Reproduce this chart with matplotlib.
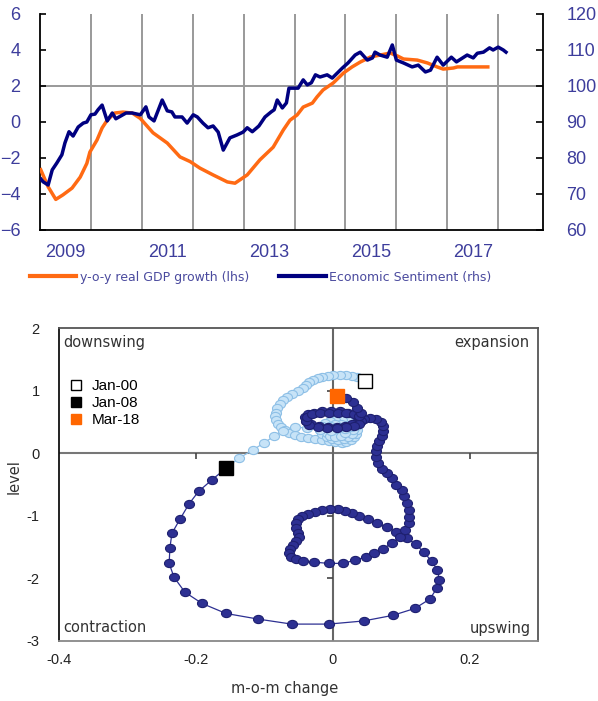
import matplotlib
matplotlib.use('Agg')
import matplotlib.pyplot as plt
from matplotlib.path import Path
from matplotlib.lines import Line2D

# ---------------- top chart data ----------------
gdp_year = [2009.00, 2009.16, 2009.31, 2009.45, 2009.63, 2009.79, 2009.92, 2009.98, 2010.12, 2010.22,
            2010.32, 2010.47, 2010.63, 2010.81, 2010.97, 2011.22, 2011.50, 2011.75, 2011.95, 2012.14,
            2012.40, 2012.68, 2012.83, 2013.07, 2013.32, 2013.58, 2013.78, 2013.91, 2014.05, 2014.17,
            2014.35, 2014.44, 2014.56, 2014.76, 2014.96, 2015.13, 2015.29, 2015.49, 2015.68, 2015.88,
            2016.02, 2016.14, 2016.41, 2016.61, 2016.80, 2016.92, 2017.12, 2017.20, 2017.83]
gdp_val = [-2.56, -3.6, -4.3, -4.05, -3.67, -3.06, -2.3, -1.67, -1.0, -0.33,
           0.1, 0.5, 0.55, 0.5, 0.2, -0.6, -1.17, -1.94, -2.2, -2.56,
           -2.94, -3.33, -3.4, -2.94, -2.1, -1.4, -0.44, 0.1, 0.39, 0.83,
           1.05, 1.39, 1.78, 2.17, 2.72, 3.06, 3.33, 3.61, 3.72, 3.83,
           3.67, 3.5, 3.44, 3.28, 3.06, 2.94, 3.0, 3.06, 3.06]

esi_year = [2009.00, 2009.06, 2009.16, 2009.24, 2009.33, 2009.43, 2009.49, 2009.57, 2009.65, 2009.75,
            2009.85, 2009.92, 2010.00, 2010.08, 2010.14, 2010.22, 2010.32, 2010.42, 2010.49, 2010.59,
            2010.69, 2010.81, 2010.97, 2011.08, 2011.14, 2011.24, 2011.40, 2011.50, 2011.59, 2011.65,
            2011.79, 2011.89, 2012.01, 2012.09, 2012.20, 2012.30, 2012.40, 2012.50, 2012.60, 2012.73,
            2012.87, 2012.99, 2013.07, 2013.17, 2013.30, 2013.42, 2013.54, 2013.60, 2013.66, 2013.76,
            2013.84, 2013.89, 2014.07, 2014.17, 2014.25, 2014.33, 2014.41, 2014.50, 2014.64, 2014.74,
            2014.84, 2014.94, 2015.05, 2015.19, 2015.29, 2015.43, 2015.53, 2015.58, 2015.68, 2015.82,
            2015.92, 2016.00, 2016.14, 2016.31, 2016.43, 2016.57, 2016.67, 2016.80, 2016.92, 2017.08,
            2017.18, 2017.39, 2017.51, 2017.59, 2017.71, 2017.83, 2017.90, 2018.00, 2018.10, 2018.18]
esi_val = [74.5, 73.4, 72.5, 76.7, 78.6, 80.9, 84.2, 87.3, 86.1, 88.6,
           89.7, 90.0, 92.0, 92.2, 93.4, 94.7, 90.3, 92.5, 90.9, 91.7,
           92.5, 92.5, 92.0, 94.2, 91.4, 90.3, 96.1, 93.1, 92.8, 91.4,
           91.4, 89.7, 92.0, 91.4, 89.7, 88.4, 88.9, 87.2, 82.2, 85.6,
           86.4, 87.2, 88.4, 87.3, 88.9, 91.4, 92.8, 93.4, 96.1, 93.9,
           95.3, 99.4, 99.4, 101.7, 100.3, 100.9, 103.1, 102.5, 103.1, 102.2,
           103.6, 105.0, 106.4, 108.6, 109.4, 107.2, 107.8, 109.4, 108.6, 108.0,
           111.4, 107.2, 106.4, 105.3, 105.8, 103.9, 104.4, 108.0, 105.8, 108.0,
           106.7, 108.6, 107.8, 109.1, 109.4, 110.6, 110.0, 110.8, 110.0, 109.1]

year_ticks = [2009.5, 2011.5, 2013.5, 2015.5, 2017.5]
year_labels = ['2009', '2011', '2013', '2015', '2017']
year_grid = [2010, 2011, 2012, 2013, 2014, 2015, 2016, 2017, 2018]

# ---------------- bottom chart data (m-o-m change, level) ----------------
light_x = [0.047, 0.036, 0.028, 0.019, 0.010, 0.001, -0.007, -0.015, -0.022, -0.029,
           -0.035, -0.039, -0.044, -0.051, -0.060, -0.067, -0.073, -0.077, -0.082, -0.083,
           -0.085, -0.083, -0.080, -0.076, -0.070, -0.064, -0.055, -0.047, -0.036, -0.026,
           -0.016, -0.006, 0.004, 0.013, 0.020, 0.026, 0.031, 0.034, 0.035, 0.034,
           0.029, 0.022, 0.013, 0.004, -0.004, -0.012, -0.016, -0.018, -0.015, -0.009,
           -0.001, 0.007, 0.016, 0.023, 0.028, 0.029, 0.026, 0.020, 0.012, 0.003,
           -0.004, -0.009, -0.009, -0.004, 0.003, 0.012, 0.018, 0.018, 0.012, 0.003,
           -0.003, -0.019, -0.038, -0.055, -0.072, -0.086, -0.101, -0.117, -0.137, -0.156]
light_y = [1.15, 1.21, 1.23, 1.25, 1.25, 1.25, 1.23, 1.21, 1.20, 1.17,
           1.13, 1.09, 1.04, 0.99, 0.94, 0.89, 0.85, 0.78, 0.72, 0.65,
           0.59, 0.53, 0.46, 0.42, 0.37, 0.32, 0.29, 0.26, 0.24, 0.22,
           0.21, 0.19, 0.18, 0.16, 0.18, 0.21, 0.26, 0.30, 0.37, 0.43,
           0.48, 0.51, 0.53, 0.53, 0.51, 0.48, 0.43, 0.37, 0.30, 0.26,
           0.22, 0.21, 0.22, 0.26, 0.30, 0.37, 0.42, 0.45, 0.46, 0.46,
           0.43, 0.38, 0.32, 0.27, 0.26, 0.27, 0.32, 0.38, 0.42, 0.40,
           0.35, 0.37, 0.40, 0.42, 0.35, 0.27, 0.16, 0.05, -0.08, -0.24]

dark_x = [-0.156, -0.177, -0.196, -0.210, -0.223, -0.235, -0.238, -0.239, -0.232, -0.216,
          -0.191, -0.156, -0.109, -0.060, -0.006, 0.045, 0.088, 0.120, 0.142, 0.152,
          0.156, 0.153, 0.145, 0.133, 0.121, 0.108, 0.093, 0.079, 0.064, 0.051,
          0.039, 0.028, 0.018, 0.007, -0.004, -0.016, -0.026, -0.036, -0.045, -0.051,
          -0.054, -0.054, -0.051, -0.050, -0.053, -0.058, -0.063, -0.064, -0.061, -0.054,
          -0.044, -0.028, -0.006, 0.015, 0.032, 0.048, 0.061, 0.073, 0.086, 0.098,
          0.105, 0.111, 0.112, 0.111, 0.108, 0.104, 0.101, 0.093, 0.086, 0.079,
          0.072, 0.066, 0.063, 0.063, 0.064, 0.067, 0.072, 0.074, 0.074, 0.070,
          0.063, 0.054, 0.045, 0.036, 0.028, 0.018, 0.006, -0.007, -0.020, -0.032,
          -0.039, -0.041, -0.036, -0.028, -0.016, -0.003, 0.010, 0.022, 0.032, 0.039,
          0.042, 0.039, 0.031, 0.019, 0.006, -0.009, -0.022, -0.034, -0.039, -0.038,
          -0.031, -0.019, -0.006, 0.007, 0.020, 0.031, 0.038, 0.041, 0.036, 0.029,
          0.020, 0.006]
dark_y = [-0.24, -0.43, -0.61, -0.81, -1.05, -1.28, -1.52, -1.76, -1.98, -2.22,
          -2.40, -2.56, -2.65, -2.73, -2.73, -2.68, -2.59, -2.48, -2.33, -2.16,
          -2.03, -1.87, -1.73, -1.58, -1.45, -1.36, -1.26, -1.18, -1.12, -1.05,
          -1.01, -0.96, -0.93, -0.89, -0.89, -0.91, -0.94, -0.97, -1.01, -1.05,
          -1.12, -1.20, -1.28, -1.34, -1.41, -1.47, -1.53, -1.60, -1.66, -1.69,
          -1.73, -1.74, -1.76, -1.76, -1.71, -1.66, -1.60, -1.53, -1.44, -1.34,
          -1.23, -1.12, -1.02, -0.91, -0.80, -0.69, -0.58, -0.50, -0.40, -0.32,
          -0.26, -0.16, -0.06, 0.03, 0.11, 0.19, 0.27, 0.35, 0.43, 0.50,
          0.54, 0.56, 0.54, 0.50, 0.46, 0.43, 0.42, 0.42, 0.43, 0.46,
          0.51, 0.58, 0.62, 0.65, 0.67, 0.67, 0.67, 0.65, 0.62, 0.58,
          0.51, 0.46, 0.43, 0.42, 0.40, 0.40, 0.42, 0.45, 0.51, 0.58,
          0.62, 0.64, 0.65, 0.65, 0.64, 0.62, 0.59, 0.65, 0.73, 0.81,
          0.88, 0.91]

key_labels = ['Jan-00', 'Jan-08', 'Mar-18']
key_x = [0.047, -0.156, 0.006]
key_y = [1.15, -0.24, 0.91]

# ---------------- figure ----------------
W, H = 598, 701
fig = plt.figure(figsize=(W / 100, H / 100), dpi=100)

ORANGE = '#ff6a13'
NAVY = '#000080'
LBL = '#3d3d9c'
GRID = '#999999'
tick_font = {'family': 'Liberation Sans', 'size': 13}

ax1 = fig.add_axes([40 / W, 1 - 230 / H, 503 / W, 216 / H])
ax1.set_xlim(2009.0, 2018.88)
ax1.set_ylim(-6, 6)
ax1.set_yticks([-6, -4, -2, 0, 2, 4, 6])
ax1.set_xticks(year_ticks)
ax1.set_xticklabels(year_labels)
ax1.set_xticks(year_grid, minor=True)
ax1.grid(which='minor', axis='x', color=GRID, lw=1.4)
ax1.axhline(2, color=GRID, lw=1.4, zorder=1)
ax1.tick_params(axis='x', which='both', length=0, pad=10, labelcolor=LBL)
ax1.tick_params(axis='y', direction='in', length=4, width=1.2, pad=14, labelcolor=LBL)
for lab in ax1.get_xticklabels() + ax1.get_yticklabels():
    lab.set_fontfamily('Liberation Sans')
    lab.set_fontsize(13)
ax1.spines['top'].set_visible(False)
ax1.spines['right'].set_visible(False)
for s in ['left', 'bottom']:
    ax1.spines[s].set_linewidth(1.3)
ax1.plot(gdp_year, gdp_val, color=ORANGE, lw=2.5, zorder=3, solid_capstyle='butt')

ax2 = ax1.twinx()
ax2.set_ylim(60, 120)
ax2.set_yticks([60, 70, 80, 90, 100, 110, 120])
ax2.tick_params(axis='y', direction='in', length=5, width=1.2, pad=17, labelcolor=LBL)
for lab in ax2.get_yticklabels():
    lab.set_fontfamily('Liberation Sans')
    lab.set_fontsize(13)
for s in ['top', 'left', 'bottom']:
    ax2.spines[s].set_visible(False)
ax2.spines['right'].set_linewidth(1.3)
ax2.plot(esi_year, esi_val, color=NAVY, lw=2.5, zorder=4, solid_capstyle='butt')

handles = [Line2D([], [], color=ORANGE, lw=3), Line2D([], [], color=NAVY, lw=3)]
fig.legend(handles, ['y-o-y real GDP growth (lhs)', 'Economic Sentiment (rhs)'],
           loc='center left', bbox_to_anchor=(30 / W, 1 - 277 / H), ncol=2, frameon=False,
           handlelength=3.7, handletextpad=0.3, columnspacing=2.4, borderpad=0, borderaxespad=0,
           prop={'family': 'DejaVu Sans', 'size': 9}, labelcolor='#4a4a9e')

# ---------------- bottom chart ----------------
ax3 = fig.add_axes([59 / W, 1 - 641 / H, 479 / W, 313 / H])
ax3.set_xlim(-0.4, 0.3)
ax3.set_ylim(-3, 2)
ax3.set_xticks([-0.4, -0.2, 0, 0.2])
ax3.set_xticklabels(['-0.4', '-0.2', '0', '0.2'])
ax3.set_yticks([-3, -2, -1, 0, 1, 2])
ax3.set_yticklabels(['-3', '-2', '-1', '0', '1', '2'])
ax3.tick_params(length=0, labelcolor='#222222')
ax3.tick_params(axis='x', pad=9)
ax3.tick_params(axis='y', pad=14)
for lab in ax3.get_xticklabels() + ax3.get_yticklabels():
    lab.set_fontfamily('Liberation Sans')
    lab.set_fontsize(10.5)
ax3.spines['left'].set_color('#111111')
ax3.spines['bottom'].set_color('#888888')
ax3.spines['top'].set_color('#555555')
ax3.spines['right'].set_color('#555555')
for s in ax3.spines.values():
    s.set_linewidth(1.3)

ax3.axhline(0, color='#777777', lw=1.5, zorder=1)
ax3.axvline(0, color='#666666', lw=1.5, zorder=1)
ax3.plot([-0.2, 0.2], [0, 0], ls='none', marker=3, ms=4, mew=1.2, color='#444444', zorder=1)
ax3.plot([0, 0, 0], [1, -1, -2], ls='none', marker=0, ms=4, mew=1.2, color='#444444', zorder=1)

circ = Path.unit_circle()
ell = Path(circ.vertices * [1.0, 0.82], circ.codes)

ax3.plot(light_x, light_y, color='#8dbfe6', lw=0.9, marker=ell, ms=7.2,
         mfc='#c7e3f7', mec='#8dbfe6', mew=0.8, zorder=3)
ax3.plot(dark_x, dark_y, color='#2d3092', lw=0.9, marker=ell, ms=7.2,
         mfc='#2d3092', mec='#1e2070', mew=0.8, zorder=4)

key_styles = [dict(mfc='white', mec='black', mew=1.0),
              dict(mfc='black', mec='black', mew=1.0),
              dict(mfc='#ff6600', mec='#ff6600', mew=1.0)]
key_handles = []
for lbl, kx, ky, st in zip(key_labels, key_x, key_y, key_styles):
    h, = ax3.plot([kx], [ky], ls='none', marker='s', ms=9.5, zorder=6, label=lbl, **st)
    key_handles.append(h)

ax3.legend(handles=key_handles, loc='upper left', bbox_to_anchor=(11 / 479, 1 - 51 / 313),
           frameon=False, handlelength=0.8, handletextpad=0.65, labelspacing=0.2,
           borderpad=0, borderaxespad=0, markerscale=0.75,
           prop={'family': 'Liberation Sans', 'size': 11})

qfont = {'family': 'DejaVu Sans', 'size': 10.5, 'color': '#333333'}
ax3.text(4 / 479, 1 - 14 / 313, 'downswing', transform=ax3.transAxes, ha='left', va='center', **qfont)
ax3.text(1 - 9 / 479, 1 - 14 / 313, 'expansion', transform=ax3.transAxes, ha='right', va='center', **qfont)
ax3.text(4 / 479, 13 / 313, 'contraction', transform=ax3.transAxes, ha='left', va='center', **qfont)
ax3.text(1 - 7 / 479, 13 / 313, 'upswing', transform=ax3.transAxes, ha='right', va='center', **qfont)

fig.text(14 / W, 1 - 477 / H, 'level', rotation=90, ha='center', va='center',
         family='DejaVu Sans', size=10.5, color='#333333')
fig.text(285 / W, 1 - 689 / H, 'm-o-m change', ha='center', va='center',
         family='DejaVu Sans', size=10.5, color='#333333')

fig.savefig('out.png', dpi=100)
